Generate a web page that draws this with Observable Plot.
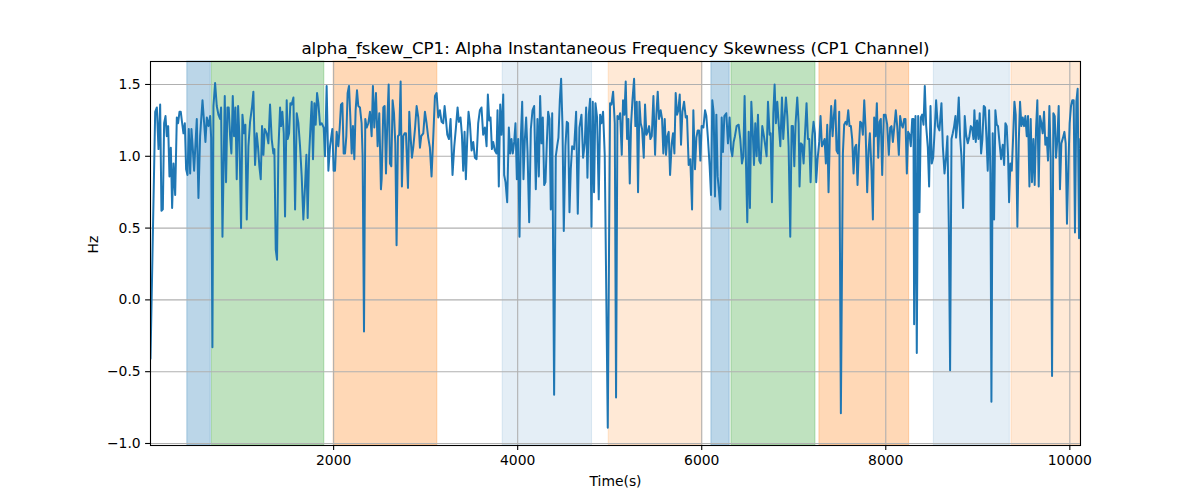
<!DOCTYPE html>
<html><head><meta charset="utf-8">
<script src="https://cdn.jsdelivr.net/npm/d3@7"></script>
<script src="https://cdn.jsdelivr.net/npm/@observablehq/plot@0.6"></script>
<style>body{margin:0;background:#fff} #chart{width:1200px;height:500px}</style>
</head><body><div id="chart"></div>
<script>
const title = "alpha_fskew_CP1: Alpha Instantaneous Frequency Skewness (CP1 Channel)";
const xLabel = "Time(s)";
const yLabel = "Hz";
const xTicks = [2000, 4000, 6000, 8000, 10000];
const yTicks = [-1.0, -0.5, 0.0, 0.5, 1.0, 1.5];
const xDomain = [10, 10116];
const yDomain = [-1.014, 1.66];
const spanStart = [410, 678, 2000, 3837, 4989, 6105, 6323, 7279, 8522, 9366];
const spanEnd   = [665, 1899, 3127, 4808, 6004, 6304, 7236, 8254, 9348, 10116];
const spanColor = ["#1f77b4","#2ca02c","#ff7f0e","#1f77b4","#ff7f0e","#1f77b4","#2ca02c","#ff7f0e","#1f77b4","#ff7f0e"];
const spanAlpha = [0.3, 0.3, 0.3, 0.12, 0.17, 0.3, 0.3, 0.3, 0.12, 0.17];
// [time (s), skewness (Hz)]
const fskew = [
[10,-0.41],[61,1.31],[79,1.34],[97,1.05],[115,1.36],[129,0.62],[144,0.63],[158,1.23],[173,1.28],[187,1.14],[202,1.21],[216,0.86],[231,1.06],[245,0.64],[260,0.95],[278,0.73],[296,1.27],[310,1.23],[325,1.31],[339,1.31],[354,1.23],[368,1.16],[383,1.23],[397,0.91],[412,0.87],[426,1.19],[441,0.88],[455,1.19],[470,1.05],[484,0.90],[499,1.09],[513,1.26],[531,0.71],[549,1.14],[575,1.39],[593,1.23],[607,1.10],[622,1.27],[640,1.21],[658,1.28],[669,1.13],[683,-0.33],[694,1.35],[712,1.51],[730,1.35],[748,1.29],[766,1.26],[777,1.34],[792,0.44],[817,1.42],[831,0.82],[846,1.34],[860,1.34],[875,1.14],[889,1.02],[904,1.42],[918,1.14],[933,1.34],[947,0.84],[962,1.35],[976,1.14],[994,0.50],[1009,1.29],[1027,1.16],[1041,1.22],[1056,0.56],[1074,1.07],[1092,1.24],[1114,1.35],[1128,1.45],[1146,0.94],[1164,1.16],[1179,1.06],[1193,0.93],[1208,0.84],[1222,1.21],[1237,1.01],[1251,1.19],
[1273,1.16],[1291,1.09],[1309,1.36],[1327,1.12],[1345,1.02],[1356,1.05],[1371,0.35],[1385,0.28],[1400,1.05],[1418,1.34],[1429,1.21],[1443,1.31],[1458,1.16],[1472,0.58],[1490,1.39],[1501,1.12],[1516,1.16],[1530,1.37],[1544,1.36],[1563,1.41],[1581,0.63],[1599,1.30],[1617,1.23],[1635,1.07],[1653,0.86],[1671,0.56],[1689,0.79],[1704,1.01],[1718,0.57],[1733,1.00],[1747,1.19],[1762,1.38],[1776,0.98],[1791,1.37],[1805,1.22],[1820,1.44],[1834,1.37],[1852,1.22],[1870,1.23],[1892,1.20],[1906,1.00],[1924,1.49],[1943,0.90],[1961,1.07],[1986,1.19],[2000,0.90],[2015,0.90],[2033,1.17],[2051,1.07],[2066,1.20],[2080,1.36],[2095,1.37],[2109,1.02],[2124,1.02],[2138,1.14],[2152,1.44],[2167,1.49],[2181,1.28],[2196,1.02],[2210,1.21],[2225,0.98],[2239,1.32],[2254,1.46],[2268,1.35],[2286,1.34],[2304,1.23],[2315,1.00],[2330,-0.22],[2344,1.26],[2359,1.20],[2377,1.23],[2395,1.31],[2413,1.14],[2427,1.49],[2442,1.20],[2460,1.44],[2478,1.07],[2496,1.30],[2514,0.77],
[2522,0.84],[2540,1.34],[2554,1.35],[2569,0.88],[2583,1.23],[2598,1.50],[2612,0.95],[2627,0.93],[2641,1.39],[2656,1.30],[2670,1.09],[2684,0.38],[2699,1.14],[2713,1.15],[2728,1.52],[2742,0.79],[2757,1.14],[2771,1.16],[2786,1.16],[2808,0.78],[2822,1.31],[2836,1.14],[2851,0.99],[2865,1.06],[2884,1.19],[2902,1.35],[2920,1.27],[2938,1.06],[2952,1.14],[2974,1.16],[2992,1.31],[3010,1.23],[3028,1.13],[3046,1.06],[3064,0.86],[3083,1.14],[3101,1.42],[3119,1.44],[3137,1.27],[3155,1.32],[3173,1.24],[3191,1.23],[3206,1.35],[3220,1.26],[3235,1.15],[3253,1.12],[3271,1.26],[3292,0.87],[3311,1.07],[3329,1.20],[3347,1.34],[3361,1.24],[3379,1.27],[3394,1.15],[3408,0.90],[3423,1.17],[3437,0.84],[3452,1.12],[3466,1.31],[3481,1.23],[3499,1.04],[3517,1.10],[3535,0.99],[3553,0.98],[3571,1.23],[3589,1.32],[3607,1.34],[3625,1.15],[3644,1.20],[3662,1.07],[3676,1.43],[3691,1.25],[3705,1.27],[3720,1.05],[3734,1.10],[3752,1.04],
[3770,1.02],[3781,1.32],[3795,0.79],[3810,1.36],[3824,1.15],[3843,1.43],[3853,0.87],[3868,0.82],[3886,0.68],[3904,1.20],[3919,1.02],[3933,1.12],[3947,1.02],[3962,1.10],[3976,1.23],[3991,0.84],[4005,1.12],[4020,0.44],[4034,1.12],[4049,1.38],[4063,0.84],[4078,1.12],[4092,1.27],[4107,1.03],[4125,0.54],[4143,1.19],[4161,1.32],[4179,1.35],[4197,0.77],[4215,1.26],[4230,0.86],[4244,1.42],[4259,1.09],[4273,1.27],[4288,0.80],[4302,0.82],[4317,1.10],[4331,1.31],[4346,1.26],[4360,0.63],[4375,1.30],[4396,-0.66],[4414,1.00],[4429,1.07],[4443,1.13],[4458,1.39],[4472,1.54],[4487,1.21],[4501,0.48],[4519,1.07],[4534,1.24],[4548,1.23],[4563,0.61],[4577,0.91],[4592,1.07],[4613,1.05],[4635,1.31],[4653,0.60],[4671,1.20],[4693,1.29],[4711,0.99],[4729,1.09],[4744,1.34],[4758,0.85],[4773,1.29],[4787,1.40],[4802,0.51],[4816,1.38],[4830,0.75],[4845,1.37],[4863,1.27],[4881,0.70],[4896,1.29],[4910,1.23],[4928,1.31],[4946,1.01],[4979,-0.89],[5004,1.37],
[5019,1.36],[5037,1.45],[5055,1.23],[5069,-0.68],[5084,1.28],[5098,1.26],[5113,1.30],[5131,1.01],[5145,1.39],[5160,1.29],[5174,1.52],[5189,1.12],[5203,1.26],[5218,0.81],[5232,1.22],[5247,1.39],[5265,1.54],[5279,1.21],[5294,1.38],[5308,0.75],[5323,1.38],[5337,1.23],[5352,1.19],[5370,0.99],[5384,1.36],[5399,1.15],[5413,1.17],[5428,1.21],[5442,1.12],[5457,1.14],[5475,1.42],[5493,1.01],[5507,1.29],[5522,1.45],[5536,1.26],[5554,1.32],[5569,1.26],[5583,1.02],[5598,1.26],[5612,1.01],[5627,1.14],[5641,1.17],[5656,0.87],[5674,1.09],[5688,1.16],[5703,1.02],[5717,1.44],[5732,1.29],[5746,1.32],[5761,1.43],[5775,1.08],[5790,1.31],[5808,1.38],[5826,1.27],[5840,1.28],[5858,0.94],[5876,0.98],[5895,0.63],[5909,1.32],[5927,0.91],[5942,1.13],[5956,1.18],[5971,1.18],[5985,0.97],[5999,1.21],[6018,1.20],[6036,1.32],[6050,1.28],[6068,1.12],[6086,0.93],[6101,0.73],[6115,1.39],[6130,1.30],[6144,0.72],[6159,1.29],[6173,0.86],[6188,0.75],[6202,0.63],[6217,1.27],[6231,1.03],[6246,1.28],
[6267,1.30],[6285,1.09],[6303,1.27],[6318,1.05],[6332,1.00],[6347,1.10],[6361,1.14],[6379,1.21],[6401,1.22],[6419,1.12],[6437,0.95],[6452,1.00],[6466,1.42],[6481,0.95],[6495,0.54],[6510,1.17],[6524,0.64],[6539,1.38],[6553,1.19],[6568,0.94],[6582,1.23],[6597,1.00],[6611,1.29],[6626,0.97],[6640,0.95],[6658,1.21],[6676,1.14],[6691,1.07],[6705,1.00],[6720,1.38],[6738,1.15],[6749,1.16],[6763,0.68],[6778,1.30],[6792,1.50],[6806,1.23],[6821,1.38],[6835,1.24],[6854,1.07],[6872,1.41],[6886,1.12],[6901,1.28],[6915,1.41],[6930,1.28],[6944,1.07],[6962,0.44],[6977,1.21],[6991,1.21],[7006,0.93],[7020,1.23],[7038,1.41],[7053,1.23],[7063,0.79],[7078,1.09],[7092,1.08],[7107,0.95],[7121,1.14],[7139,1.37],[7154,1.12],[7168,1.12],[7183,0.82],[7201,1.14],[7215,1.24],[7230,1.16],[7244,0.82],[7259,0.98],[7277,1.10],[7291,1.28],[7306,1.07],[7320,1.09],[7335,1.12],[7349,0.95],[7364,1.22],[7378,0.75],[7393,1.16],[7407,1.35],[7422,1.14],[7436,1.28],[7451,1.39],[7465,1.04],[7480,1.02],[7494,1.31],[7512,-0.79],
[7534,1.02],[7548,1.22],[7563,1.24],[7577,1.22],[7592,1.32],[7606,1.21],[7621,1.21],[7635,1.12],[7650,0.88],[7664,1.06],[7679,1.08],[7693,0.80],[7708,1.06],[7722,1.24],[7737,1.23],[7751,1.15],[7766,1.39],[7780,1.20],[7798,0.75],[7813,1.04],[7827,1.16],[7845,0.90],[7860,0.56],[7874,1.27],[7889,1.14],[7903,1.37],[7918,0.99],[7932,1.24],[7946,1.26],[7961,0.87],[7979,1.29],[7997,1.29],[8015,1.22],[8033,1.01],[8048,1.20],[8062,1.21],[8077,1.10],[8095,1.22],[8109,1.32],[8124,1.21],[8142,1.01],[8156,1.28],[8171,1.22],[8185,1.20],[8200,1.26],[8214,1.26],[8229,0.88],[8243,1.17],[8258,1.15],[8272,1.07],[8287,1.26],[8301,1.26],[8308,-0.17],[8323,1.28],[8337,-0.37],[8352,1.28],[8366,0.61],[8381,1.27],[8395,1.29],[8410,1.22],[8424,1.49],[8439,1.21],[8457,1.06],[8471,0.79],[8486,1.35],[8500,0.95],[8515,0.99],[8533,1.20],[8547,1.39],[8565,1.21],[8583,1.18],[8605,1.37],[8620,1.07],[8638,0.88],[8656,1.00],[8670,1.14],[8685,0.51],[8699,-0.49],[8714,1.12],[8728,1.16],[8743,1.21],[8757,1.28],
[8764,1.13],[8779,1.23],[8793,1.41],[8808,1.13],[8822,1.00],[8840,0.64],[8858,1.28],[8873,1.15],[8891,1.09],[8909,1.14],[8924,1.21],[8938,1.20],[8953,1.12],[8963,1.32],[8978,1.10],[8992,1.25],[9007,1.12],[9021,1.30],[9036,1.02],[9050,1.12],[9065,1.35],[9079,1.34],[9094,1.13],[9108,0.90],[9123,1.32],[9137,0.88],[9148,-0.71],[9162,1.16],[9177,0.56],[9191,1.32],[9206,1.22],[9220,1.21],[9235,1.10],[9253,0.98],[9271,1.08],[9286,0.94],[9300,1.23],[9314,1.21],[9329,1.00],[9340,0.68],[9354,0.95],[9369,0.90],[9383,1.12],[9398,1.38],[9412,1.29],[9430,0.51],[9445,1.10],[9459,1.38],[9474,1.21],[9488,1.27],[9503,1.21],[9517,1.28],[9532,1.14],[9546,1.28],[9561,0.79],[9575,1.26],[9589,0.82],[9604,1.12],[9618,0.80],[9633,1.19],[9647,1.39],[9662,0.79],[9676,1.28],[9691,1.23],[9705,1.16],[9720,1.31],[9734,1.08],[9749,1.13],[9763,0.97],[9778,1.35],[9792,0.98],[9807,-0.53],[9821,1.30],[9836,1.28],[9850,0.99],[9865,1.12],[9879,1.35],[9893,0.77],[9908,1.09],[9926,1.13],[9941,1.17],[9955,1.09],[9969,0.53],[9984,0.93],[9998,1.23],[10013,1.35],[10027,1.39],[10042,1.39],[10056,0.47],[10071,1.38],[10085,1.47],[10100,0.43],[10114,1.12]
];

const spans = spanStart.map((s, i) => ({x1: s, x2: spanEnd[i], color: spanColor[i], alpha: spanAlpha[i]}));
const gridStyle = {stroke: "#b0b0b0", strokeOpacity: 1, strokeWidth: 1.1};

const chart = Plot.plot({
  width: 1200, height: 500,
  marginLeft: 150, marginRight: 120, marginTop: 61, marginBottom: 55,
  style: {fontFamily: "DejaVu Sans", fontSize: "13.9px", color: "black", background: "white"},
  x: {domain: xDomain},
  y: {domain: yDomain},
  marks: [
    ...spans.map(s => Plot.rect([s], {x1: "x1", x2: "x2", fill: s.color, fillOpacity: s.alpha, stroke: s.color, strokeOpacity: s.alpha, strokeWidth: 1})),
    Plot.gridX(xTicks, gridStyle),
    Plot.gridY(yTicks, gridStyle),
    Plot.line(fskew, {x: d => d[0], y: d => d[1], stroke: "#1f77b4", strokeWidth: 2, strokeLinejoin: "round", clip: true}),
    Plot.frame({stroke: "black", strokeWidth: 1.1}),
    Plot.axisX(xTicks, {tickFormat: d3.format("d"), tickSize: 4.9, tickPadding: 4.9, strokeWidth: 1.1, label: null, fontSize: 13.9}),
    Plot.axisY(yTicks, {tickFormat: d3.format(".1f"), tickSize: 4.9, tickPadding: 4.9, strokeWidth: 1.1, label: null, fontSize: 13.9}),
    Plot.text([title], {text: d => d, frameAnchor: "top", dy: -8, lineAnchor: "bottom", fontSize: 16.7, fill: "black"}),
    Plot.text([xLabel], {text: d => d, frameAnchor: "bottom", dy: 36, lineAnchor: "middle", fontSize: 13.9, fill: "black"}),
    Plot.text([yLabel], {text: d => d, frameAnchor: "left", dx: -57, rotate: -90, fontSize: 13.9, fill: "black"})
  ]
});
document.getElementById("chart").appendChild(chart);
</script>
</body></html>
